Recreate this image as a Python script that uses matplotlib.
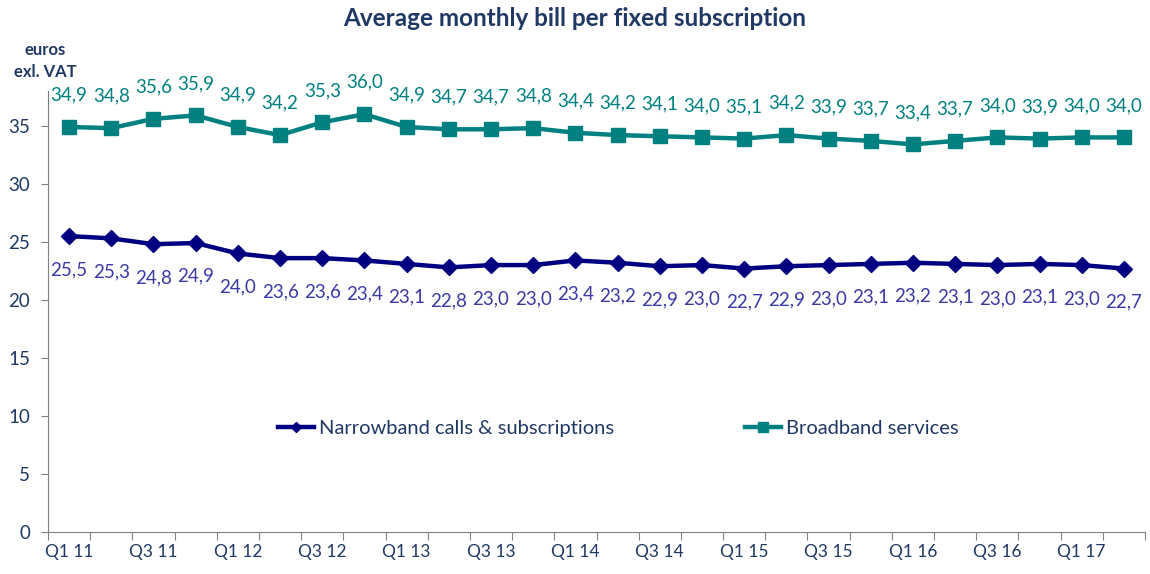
import matplotlib.pyplot as plt
import numpy as np

plt.rcParams['font.family'] = ['Lato', 'DejaVu Sans']

quarters = ['Q1 11', 'Q2 11', 'Q3 11', 'Q4 11', 'Q1 12', 'Q2 12', 'Q3 12', 'Q4 12',
            'Q1 13', 'Q2 13', 'Q3 13', 'Q4 13', 'Q1 14', 'Q2 14', 'Q3 14', 'Q4 14',
            'Q1 15', 'Q2 15', 'Q3 15', 'Q4 15', 'Q1 16', 'Q2 16', 'Q3 16', 'Q4 16',
            'Q1 17', 'Q2 17']
narrowband = [25.5, 25.3, 24.8, 24.9, 24.0, 23.6, 23.6, 23.4, 23.1, 22.8, 23.0, 23.0, 23.4,
              23.2, 22.9, 23.0, 22.7, 22.9, 23.0, 23.1, 23.2, 23.1, 23.0, 23.1, 23.0, 22.7]
broadband = [34.9, 34.8, 35.6, 35.9, 34.9, 34.2, 35.3, 36.0, 34.9, 34.7, 34.7, 34.8, 34.4,
             34.2, 34.1, 34.0, 33.9, 34.2, 33.9, 33.7, 33.4, 33.7, 34.0, 33.9, 34.0, 34.0]
broadband_labels = [34.9, 34.8, 35.6, 35.9, 34.9, 34.2, 35.3, 36.0, 34.9, 34.7, 34.7, 34.8, 34.4,
                    34.2, 34.1, 34.0, 35.1, 34.2, 33.9, 33.7, 33.4, 33.7, 34.0, 33.9, 34.0, 34.0]

c_narrow = '#000080'
c_narrow_lbl = '#3a3aa6'
c_broad = '#008080'
c_text = '#1f3864'

x = np.arange(len(quarters))

fig = plt.figure(figsize=(11.5, 5.74), dpi=100)
ax = fig.add_axes([48 / 1150, 1 - 532 / 574, (1145 - 48) / 1150, (532 - 91) / 574])

ax.plot(x, narrowband, color=c_narrow, lw=3.2, marker='D', ms=8,
        label='Narrowband calls & subscriptions')
ax.plot(x, broadband, color=c_broad, lw=3.2, marker='s', ms=10,
        label='Broadband services')

for xi, v in zip(x, narrowband):
    ax.annotate(f'{v:.1f}'.replace('.', ','), (xi, v), xytext=(0, -24),
                textcoords='offset points', ha='center', va='center',
                color=c_narrow_lbl, fontsize=13.5)
for xi, v, lab in zip(x, broadband, broadband_labels):
    ax.annotate(f'{lab:.1f}'.replace('.', ','), (xi, v), xytext=(0, 23),
                textcoords='offset points', ha='center', va='center',
                color=c_broad, fontsize=13.5)

ax.set_xlim(-0.5, len(quarters) - 0.5)
ax.set_ylim(0, 38)
ax.set_yticks(range(0, 36, 5))
ax.set_xticks(np.arange(-0.5, len(quarters), 1))
ax.set_xticklabels([])
ax.set_xticks(x[::2], minor=True)
ax.set_xticklabels(quarters[::2], minor=True)
ax.tick_params(axis='x', which='major', length=6, color='#808080')
ax.tick_params(axis='x', which='minor', length=0, pad=9, labelsize=12.5, labelcolor=c_text)
ax.tick_params(axis='y', length=5, color='#808080', labelsize=13.5, labelcolor=c_text, pad=8)

for s in ['top', 'right']:
    ax.spines[s].set_visible(False)
for s in ['left', 'bottom']:
    ax.spines[s].set_color('#808080')

ax.legend(loc='center', bbox_to_anchor=(0.52, (532 - 428) / (532 - 91)), ncol=2,
          frameon=False, fontsize=14.5, labelcolor=c_text, columnspacing=6.5,
          handlelength=1.8, handletextpad=0.25, markerscale=0.7)

fig.text(0.5, 1 - 19 / 574, 'Average monthly bill per fixed subscription',
         ha='center', va='center', fontsize=17.5, fontweight='bold', color=c_text)
fig.text(45 / 1150, 1 - 50 / 574, 'euros', ha='center', va='center',
         fontsize=12, fontweight='bold', color=c_text)
fig.text(45 / 1150, 1 - 72 / 574, 'exl. VAT', ha='center', va='center',
         fontsize=12, fontweight='bold', color=c_text)

fig.savefig('out.png', dpi=100)
